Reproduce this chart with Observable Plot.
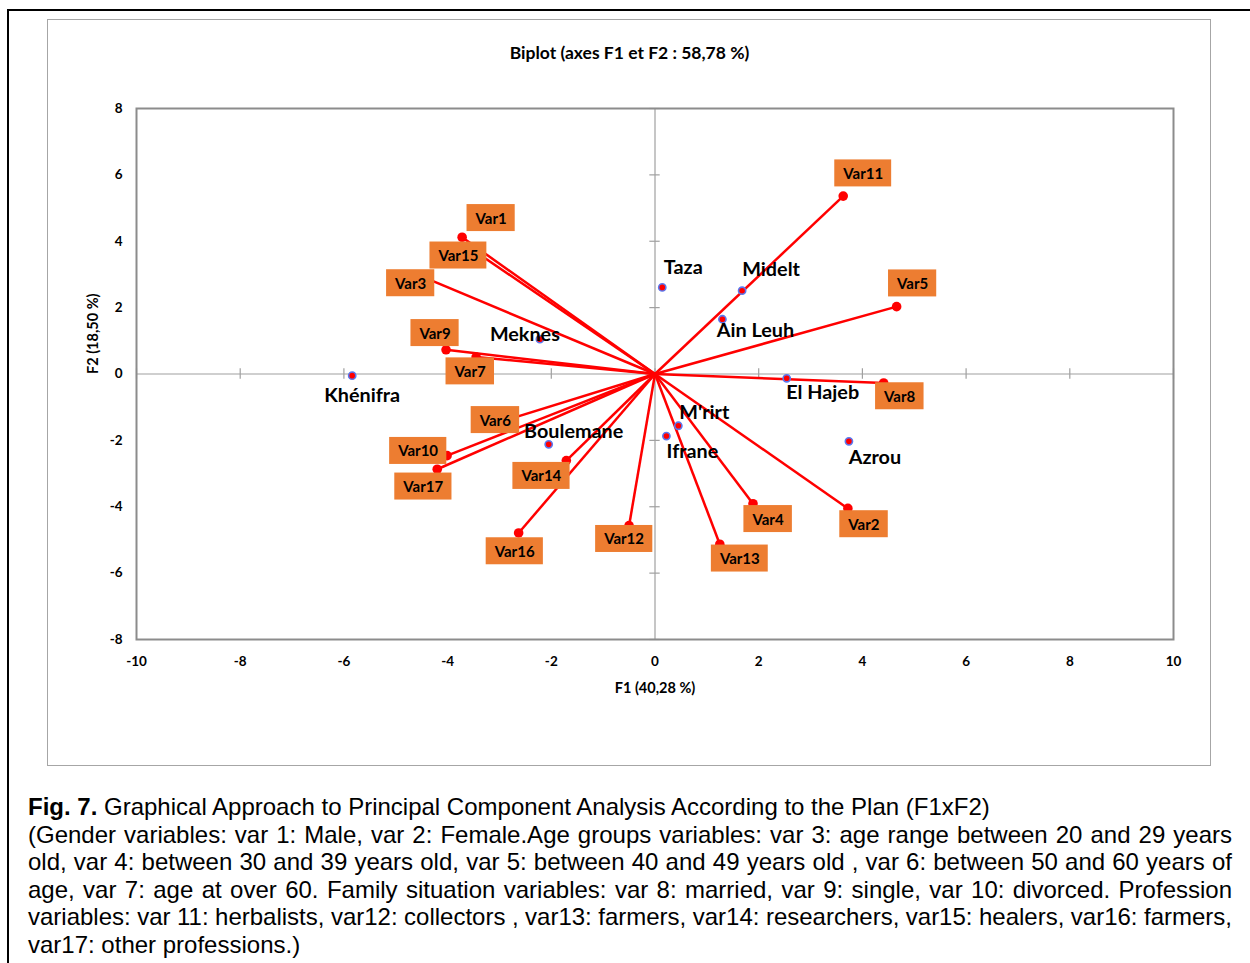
<!DOCTYPE html>
<html><head><meta charset="utf-8">
<script src="https://cdn.jsdelivr.net/npm/d3@7"></script>
<script src="https://cdn.jsdelivr.net/npm/@observablehq/plot@0.6"></script>
<style>
body{margin:0;background:#fff;}
#page{position:relative;width:1250px;height:963px;overflow:hidden;background:#fff;}
#outer{position:absolute;left:7px;top:9px;width:1300px;height:1000px;border:2px solid #000;}
#inner{position:absolute;left:47px;top:19px;width:1162px;height:745px;border:1.5px solid #a6a6a6;}
#chart{position:absolute;left:0;top:0;}
#caption{position:absolute;left:28px;top:793px;width:1204px;font-family:"Liberation Sans",Arial,sans-serif;font-size:24px;line-height:27.5px;color:#000;}
#caption .j{text-align:justify;text-align-last:justify;word-spacing:-2.5px;}
</style></head>
<body><div id="page"><div id="outer"></div><div id="inner"></div><div id="chart"></div>
<div id="caption">
<div><b>Fig. 7.</b> Graphical Approach to Principal Component Analysis According to the Plan (F1xF2)</div>
<div class="j">(Gender variables: var 1: Male, var 2: Female.Age groups variables: var 3: age range between 20 and 29 years</div>
<div class="j">old, var 4: between 30 and 39 years old, var 5: between 40 and 49 years old , var 6: between 50 and 60 years of</div>
<div class="j">age, var 7: age at over 60. Family situation variables: var 8: married, var 9: single, var 10: divorced. Profession</div>
<div class="j">variables: var 11: herbalists, var12: collectors , var13: farmers, var14: researchers, var15: healers, var16: farmers,</div>
<div>var17: other professions.)</div>
</div>
</div>
<script>
// Tick labels
const xTicks = [-10, -8, -6, -4, -2, 0, 2, 4, 6, 8, 10];
const yTicks = [-8, -6, -4, -2, 0, 2, 4, 6, 8];

// Variables (loadings)
const varNames = ["Var1","Var2","Var3","Var4","Var5","Var6","Var7","Var8","Var9","Var10","Var11","Var12","Var13","Var14","Var15","Var16","Var17"];
const varF1 = [-3.72, 3.72, -4.50, 1.89, 4.66, -3.10, -3.45, 4.41, -4.03, -4.01, 3.63, -0.50, 1.25, -1.71, -3.56, -2.63, -4.20];
const varF2 = [4.12, -4.05, 2.94, -3.91, 2.03, -1.50, 0.51, -0.27, 0.73, -2.46, 5.36, -4.57, -5.13, -2.61, 3.79, -4.79, -2.87];

// Observations (provinces)
const obsNames = ["Taza","Midelt","Ain Leuh","El Hajeb","Khénifra","Meknes","M'rirt","Ifrane","Azrou","Boulemane"];
const obsF1 = [0.14, 1.68, 1.30, 2.54, -5.84, -2.22, 0.45, 0.22, 3.74, -2.05];
const obsF2 = [2.61, 2.51, 1.65, -0.13, -0.05, 1.05, -1.56, -1.87, -2.03, -2.12];

// Label placement offsets (px), layout only
const varLabelDx = [29, 16, -11, 15, 16, 1, -6, 16, -11, -29, 20, -5, 20, -25, -12, -4, -14];
const varLabelDy = [-18.5, 16.5, 7.5, 16, -22.5, -3, 15, 14, -16, -4, -22, 14, 15, 16, 8, 19, 18];
const obsLabelDx = [21, 29, 33, 36, 10, -15, 26, 26, 26, 25];
const obsLabelDy = [-20, -21, 11, 14, 20, -4, -13, 16, 16, -13];

const vars = varNames.map((name, i) => ({name, f1: varF1[i], f2: varF2[i]}));
const obs = obsNames.map((name, i) => ({name, f1: obsF1[i], f2: obsF2[i]}));

const gray = "#a0a0a0";
const plot = Plot.plot({
  width: 1250, height: 770,
  marginLeft: 136, marginRight: 77, marginTop: 108, marginBottom: 131,
  style: {fontFamily: "Lato, 'Open Sans', sans-serif", fontWeight: "bold", fontSize: "13.5px", color: "#000", background: "transparent"},
  x: {domain: [-10, 10], ticks: xTicks, tickFormat: d => String(d), tickSize: 0, tickPadding: 17, label: null},
  y: {domain: [-8, 8], ticks: yTicks, tickFormat: d => String(d), tickSize: 0, tickPadding: 14, label: null},
  marks: [
    Plot.ruleX([0], {stroke: gray, strokeWidth: 1.2}),
    Plot.ruleY([0], {stroke: gray, strokeWidth: 1.2}),
    Plot.ruleX(xTicks, {x: d => d, y1: -0.16, y2: 0.16, stroke: gray, strokeWidth: 1.2}),
    Plot.ruleY(yTicks, {y: d => d, x1: -0.1, x2: 0.1, stroke: gray, strokeWidth: 1.2}),
    Plot.frame({stroke: "#8c8c8c", strokeWidth: 2}),
    Plot.link(vars, {x1: 0, y1: 0, x2: "f1", y2: "f2", stroke: "#ff0000", strokeWidth: 2.5}),
    Plot.dot(vars, {x: "f1", y: "f2", r: 4.8, fill: "#ff0000"}),
    Plot.dot(obs, {x: "f1", y: "f2", r: 3.6, fill: "#ff0000", stroke: "#5a78f0", strokeWidth: 1.6}),
    ...obs.map((d, i) => Plot.text([d], {x: "f1", y: "f2", text: "name", dx: obsLabelDx[i], dy: obsLabelDy[i], fontSize: 19.8, fontWeight: "bold", fill: "#000"})),
    ...vars.map((d, i) => Plot.text([d], {x: "f1", y: "f2", text: "name", dx: varLabelDx[i], dy: varLabelDy[i], fontSize: 15, fontWeight: "bold", fill: "#000"})),
    Plot.text(["Biplot (axes F1 et F2 : 58,78 %)"], {frameAnchor: "top", lineAnchor: "middle", dx: -25.5, dy: -55, fontSize: 17.5, fontWeight: "bold"}),
    Plot.text(["F1 (40,28 %)"], {frameAnchor: "bottom", lineAnchor: "middle", dy: 49, fontSize: 14.5, fontWeight: "bold"}),
    Plot.text(["F2 (18,50 %)"], {frameAnchor: "left", lineAnchor: "middle", dx: -43, rotate: -90, fontSize: 14.5, fontWeight: "bold"})
  ]
});
document.getElementById("chart").appendChild(plot);

// Orange boxes behind variable labels
const varSet = new Set(varNames);
Array.from(plot.querySelectorAll("text")).filter(t => varSet.has(t.textContent.trim())).forEach(t => {
  const bb = t.getBBox();
  const w = bb.width + 16, h = 27;
  const r = document.createElementNS("http://www.w3.org/2000/svg", "rect");
  r.setAttribute("x", bb.x + bb.width / 2 - w / 2);
  r.setAttribute("y", bb.y + bb.height / 2 - h / 2);
  r.setAttribute("width", w);
  r.setAttribute("height", h);
  r.setAttribute("fill", "#ED7D31");
  r.setAttribute("stroke", "none");
  const tr = t.getAttribute("transform");
  if (tr) r.setAttribute("transform", tr);
  t.parentNode.insertBefore(r, t);
});
</script>
</body></html>
